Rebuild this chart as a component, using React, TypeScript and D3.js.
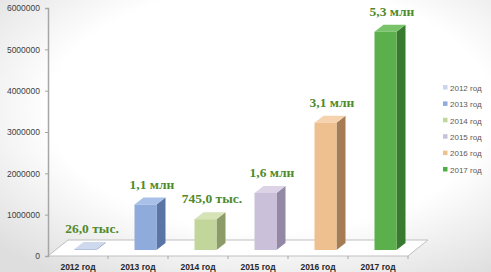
import React, { useEffect, useRef } from 'react';
import * as d3 from 'd3';

const years = ['2012 год', '2013 год', '2014 год', '2015 год', '2016 год', '2017 год'];
const values = [26000, 1100000, 745000, 1380000, 3080000, 5280000];
const valueLabels = ['26,0 тыс.', '1,1 млн', '745,0 тыс.', '1,6 млн', '3,1 млн', '5,3 млн'];
const yTicks = [0, 1000000, 2000000, 3000000, 4000000, 5000000, 6000000];

const frontColors = ['#b4c3e0', '#8eabdc', '#c2d59a', '#cbc0da', '#efc08f', '#5cb04b'];
const sideColors = ['#8393b3', '#5a74a6', '#8c9c68', '#9388a5', '#a67c55', '#387a2f'];
const topColors = ['#cfd9ee', '#a9c0e8', '#d5e3b6', '#dcd3e6', '#f6d3ae', '#79c468'];
const legendColors = ['#c9d5ec', '#8eabdc', '#c2d59a', '#cbc0da', '#efc08f', '#4caf44'];

const W = 491;
const H = 272;

const App = () => {
  const chartRef = useRef<SVGSVGElement | null>(null);

  useEffect(() => {
    const svg = d3.select(chartRef.current);
    svg.selectAll('*').remove();

    const left = 48;
    const right = 408;
    const base = 256;
    const depth = { x: 20, y: -16 };

    const x = d3.scaleBand().domain(years).range([left, right]).padding(0);
    const y = d3.scaleLinear().domain([0, 6000000]).range([base, 8]);

    // background vignette (photo of a slide)
    const defs = svg.append('defs');
    const grad = defs
      .append('radialGradient')
      .attr('id', 'bg')
      .attr('cx', '55%')
      .attr('cy', '40%')
      .attr('r', '75%');
    grad.append('stop').attr('offset', '0.6').attr('stop-color', '#ffffff');
    grad.append('stop').attr('offset', '1').attr('stop-color', '#dedede');
    svg.append('rect').attr('width', W).attr('height', H).attr('fill', 'url(#bg)');

    // floor
    svg
      .append('path')
      .attr(
        'd',
        `M${left},${base} L${right},${base} L${right + depth.x},${base + depth.y} L${left + depth.x},${base + depth.y} Z`
      )
      .attr('fill', '#ffffff')
      .attr('stroke', '#bfbfbf')
      .attr('stroke-width', 1);

    // y axis
    const yAxis = svg
      .append('g')
      .attr('transform', `translate(${left},0)`)
      .call(d3.axisLeft(y).tickValues(yTicks).tickSize(3).tickPadding(5).tickFormat(d3.format('d')));
    yAxis.select('.domain').attr('stroke', '#a6a6a6').attr('stroke-width', 1.5);
    yAxis.selectAll('.tick line').attr('stroke', '#a6a6a6');
    yAxis
      .selectAll('text')
      .attr('fill', '#404040')
      .style('font-family', 'Liberation Sans, Arial, sans-serif')
      .style('font-size', '8.5px');

    // x axis
    const xAxis = svg
      .append('g')
      .attr('transform', `translate(0,${base})`)
      .call(d3.axisBottom(x).tickSize(0).tickPadding(8));
    xAxis.select('.domain').remove();
    xAxis
      .selectAll('text')
      .attr('fill', '#262626')
      .style('font-family', 'Liberation Sans, Arial, sans-serif')
      .style('font-size', '8.5px')
      .style('font-weight', 'bold');
    svg
      .append('g')
      .selectAll('line')
      .data(years)
      .enter()
      .append('line')
      .attr('x1', (d) => x(d) + x.step())
      .attr('x2', (d) => x(d) + x.step())
      .attr('y1', base)
      .attr('y2', base + 3)
      .attr('stroke', '#a6a6a6');

    // bars
    const bw = 22;
    const dOff = { x: 7.5, y: -6 };
    const bd = { x: 9, y: -7 };
    const rows = years.map((yr, i) => ({ yr, v: values[i], i }));
    const bars = svg.append('g').selectAll('g').data(rows).enter().append('g');

    const fx = (d) => x(d.yr) + x.bandwidth() / 2 - bw / 2 + dOff.x;
    const fy0 = base + dOff.y;
    const fy1 = (d) => y(d.v) + dOff.y;

    bars
      .append('path')
      .attr('d', (d) => {
        const x0 = fx(d) + bw;
        return `M${x0},${fy0} L${x0 + bd.x},${fy0 + bd.y} L${x0 + bd.x},${fy1(d) + bd.y} L${x0},${fy1(d)} Z`;
      })
      .attr('fill', (d) => sideColors[d.i]);
    bars
      .append('path')
      .attr('d', (d) => {
        const x0 = fx(d);
        const t = fy1(d);
        return `M${x0},${t} L${x0 + bw},${t} L${x0 + bw + bd.x},${t + bd.y} L${x0 + bd.x},${t + bd.y} Z`;
      })
      .attr('fill', (d) => topColors[d.i]);
    bars
      .append('rect')
      .attr('x', fx)
      .attr('y', fy1)
      .attr('width', bw)
      .attr('height', (d) => fy0 - fy1(d))
      .attr('fill', (d) => frontColors[d.i]);

    // value labels
    svg
      .append('g')
      .selectAll('text')
      .data(rows)
      .enter()
      .append('text')
      .attr('x', (d) => fx(d) + (bw + bd.x) / 2 + 2)
      .attr('y', (d) => fy1(d) + bd.y - 9)
      .attr('text-anchor', 'middle')
      .attr('fill', '#4f8a2c')
      .style('font-family', 'Liberation Serif, DejaVu Serif, serif')
      .style('font-size', '13.5px')
      .style('font-weight', 'bold')
      .text((d) => valueLabels[d.i]);

    // legend
    const legend = svg
      .append('g')
      .selectAll('g')
      .data(years)
      .enter()
      .append('g')
      .attr('transform', (d, i) => `translate(443,${88 + i * 16.4})`);
    legend
      .append('rect')
      .attr('x', 0)
      .attr('y', -3)
      .attr('width', 4.5)
      .attr('height', 4.5)
      .attr('fill', (d, i) => legendColors[i]);
    legend
      .append('text')
      .attr('x', 7)
      .attr('y', 0)
      .attr('dy', '0.35em')
      .attr('fill', '#595959')
      .style('font-family', 'Liberation Sans, Arial, sans-serif')
      .style('font-size', '8px')
      .text((d) => d);
  }, []);

  return (
    <svg
      ref={chartRef}
      width={W}
      height={H}
      style={{ position: 'absolute', left: 0, top: 0 }}
    ></svg>
  );
};

export default App;
